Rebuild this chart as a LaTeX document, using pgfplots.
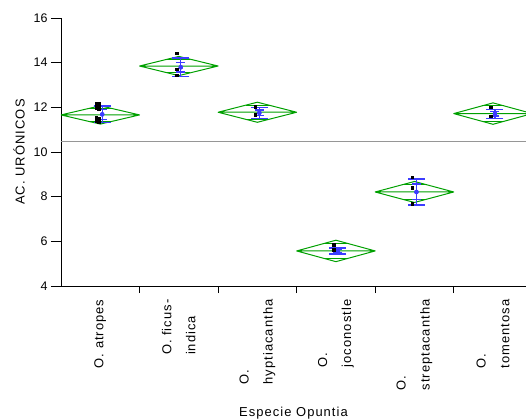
\documentclass[border=0pt]{standalone}
\usepackage{pgfplots}
\pgfplotsset{compat=1.18}
\usepackage{fontspec}
\setmainfont{Liberation Sans}
\newfontfamily\lblfont[LetterSpace=8]{Liberation Sans}
\definecolor{dgreen}{RGB}{0,160,0}
\definecolor{dblue}{RGB}{60,60,255}
\definecolor{lgray}{RGB}{150,150,150}
\begin{document}
\begin{tikzpicture}
\begin{axis}[
  scale only axis, width=465bp, height=268bp,
  xmin=-0.5, xmax=5.42, ymin=4, ymax=16,
  axis x line*=bottom, axis y line*=left,
  axis line style={line width=0.8pt, black},
  ytick={4,6,...,16},
  xtick={0,...,5},
  xticklabels={{O. atropes},{O. ficus-\\indica},{O.\\hyptiacantha},{O.\\joconostle},{O.\\streptacantha},{O.\\tomentosa}},
  minor xtick={0.5,1.5,2.5,3.5,4.5},
  tick align=outside,
  major tick length=10bp, minor tick length=7bp,
  major x tick style={draw=none},
  tick style={black, line width=0.8pt},
  /pgf/number format/assume math mode=true,
  yticklabel style={font=\fontsize{12.5}{14}\selectfont},
  x tick label style={rotate=90, anchor=east, align=left, font=\lblfont\fontsize{13}{24}\selectfont},
  ylabel={AC. URÓNICOS},
  xlabel={Especie Opuntia},
  label style={font=\lblfont\fontsize{13}{15}\selectfont},
  ylabel style={yshift=2bp},
  xlabel style={yshift=-10bp},
  unbounded coords=jump,
  clip=true,
]
% grand mean line
\addplot[lgray, line width=1.2pt, forget plot] coordinates {(-0.5,10.47) (5.42,10.47)};
% means diamonds
\addplot[dgreen, line width=1pt, line join=round, forget plot] coordinates {
 (-0.5,11.66) (0,12.07) (0.5,11.66) (0,11.25) (-0.5,11.66) (0.5,11.66) (0,nan)
 (0.5,13.85) (1,14.28) (1.5,13.85) (1,13.42) (0.5,13.85) (1.5,13.85) (1,nan)
 (1.5,11.78) (2,12.23) (2.5,11.78) (2,11.33) (1.5,11.78) (2.5,11.78) (2,nan)
 (2.5,5.57) (3,6.05) (3.5,5.57) (3,5.09) (2.5,5.57) (3.5,5.57) (3,nan)
 (3.5,8.21) (4,8.68) (4.5,8.21) (4,7.74) (3.5,8.21) (4.5,8.21) (4,nan)
 (4.5,11.72) (5,12.20) (5.5,11.72) (5,11.24) (4.5,11.72) (5.5,11.72)
};
% overlap marks
\addplot[dgreen, line width=1pt, forget plot] coordinates {
 (-0.146,11.95) (0.146,11.95) (0,nan) (-0.146,11.37) (0.146,11.37) (0,nan)
 (0.854,14.15) (1.146,14.15) (1,nan) (0.854,13.55) (1.146,13.55) (1,nan)
 (1.854,12.10) (2.146,12.10) (2,nan) (1.854,11.46) (2.146,11.46) (2,nan)
 (2.854,5.91) (3.146,5.91) (3,nan) (2.854,5.23) (3.146,5.23) (3,nan)
 (3.854,8.54) (4.146,8.54) (4,nan) (3.854,7.88) (4.146,7.88) (4,nan)
 (4.854,12.06) (5.146,12.06) (5,nan) (4.854,11.38) (5.146,11.38)
};
% outer blue bars
\addplot[forget plot, only marks, mark=none, dblue,
  error bars/.cd, y dir=both, y explicit,
  error bar style={line width=1.2pt, dblue},
  error mark options={rotate=90, mark size=8.5bp, line width=1.4pt, dblue}]
 coordinates {
 (0.025,11.685) +- (0,0.375)
 (1.025,13.79) +- (0,0.42)
 (2.025,11.745) +- (0,0.235)
 (3.025,5.565) +- (0,0.135)
 (4.025,8.205) +- (0,0.585)
 (5.025,11.71) +- (0,0.20)
};
% inner blue bars
\addplot[forget plot, only marks, mark=none, dblue,
  error bars/.cd, y dir=both, y explicit,
  error bar style={line width=1.2pt, dblue},
  error mark options={rotate=90, mark size=4.5bp, line width=1.4pt, dblue}]
 coordinates {
 (0.025,11.685) +- (0,0.225)
 (1.025,13.80) +- (0,0.22)
 (2.025,11.76) +- (0,0.12)
 (3.025,5.57) +- (0,0.07)
 (4.025,8.215) +- (0,0.345)
 (5.025,11.705) +- (0,0.095)
};
% observations
\addplot[forget plot, only marks, mark=square*, mark size=1.3bp, black] coordinates {
 (-0.05,12.18) (-0.02,12.18) (-0.05,12.08) (-0.02,12.08) (-0.05,11.98) (-0.02,11.95)
 (-0.05,11.55) (-0.02,11.52) (-0.05,11.40) (-0.02,11.36)
 (0.97,14.42) (0.97,13.70) (0.97,13.43)
 (1.97,12.03) (1.97,11.65) (1.97,11.66)
 (2.97,5.84) (2.97,5.64) (2.97,5.62)
 (3.97,8.87) (3.97,8.41) (3.97,7.69)
 (4.97,12.00) (4.97,11.60) (4.97,11.61)
};
\end{axis}
\pgfresetboundingbox
\path (-61bp,-134bp) rectangle (465bp,286bp);
\end{tikzpicture}
\end{document}
